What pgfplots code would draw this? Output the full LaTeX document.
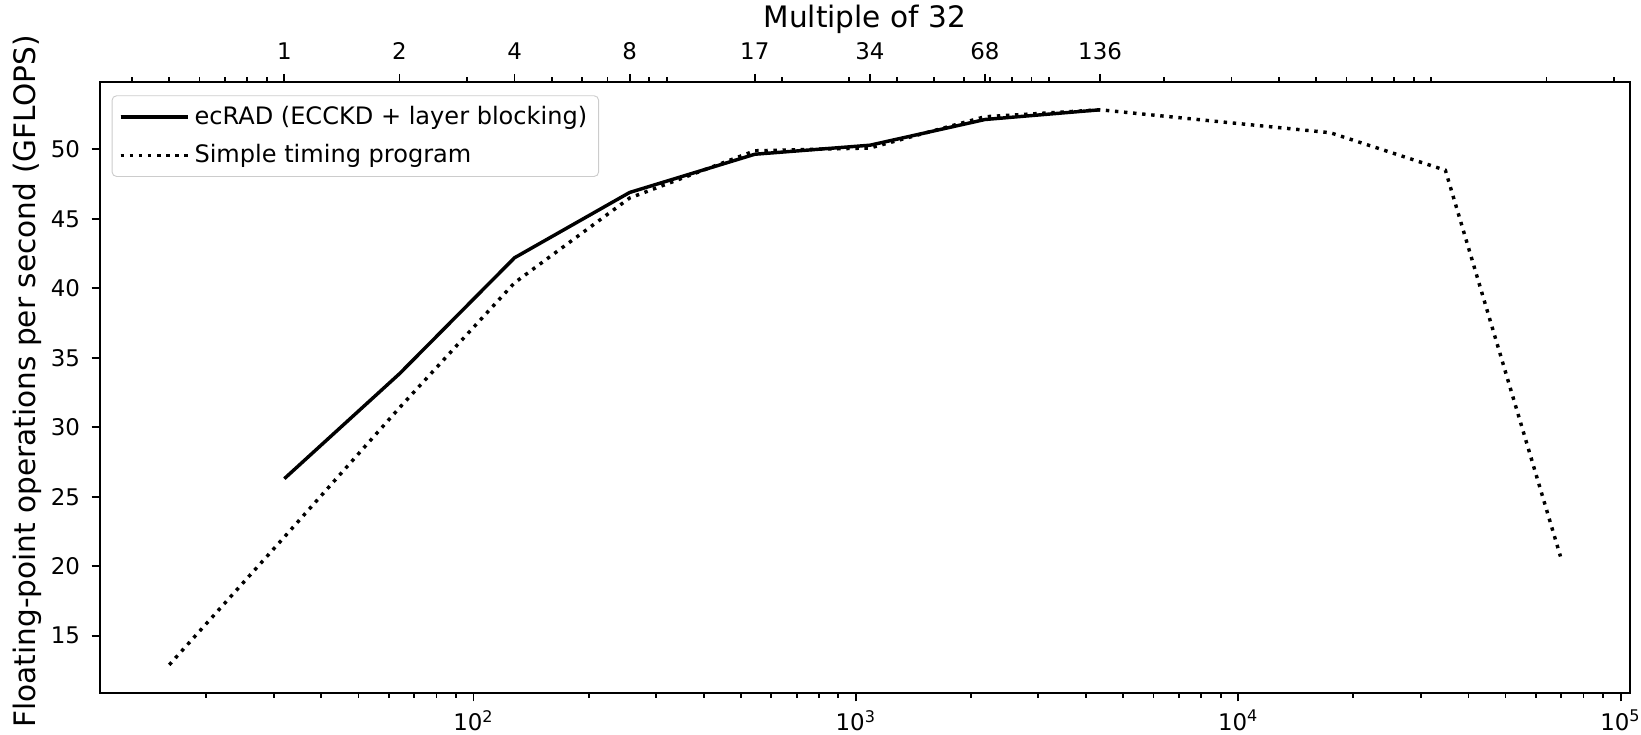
\documentclass[border=0pt]{standalone}
\usepackage{fontspec}
\setmainfont{DejaVu Sans}
\usepackage{pgfplots}
\pgfplotsset{compat=1.18}
\pgfplotsset{legend image code/.code={\draw[line width=1.5pt,#1] (0pt,0pt) -- (23.3pt,0pt); \path (0pt,0pt) -- (29.5pt,0pt);}}

\pgfplotstableread{
x y
32 26.3
64 33.85
128 42.2
256 46.9
544 49.65
1088 50.3
2176 52.15
4352 52.85
}\ecradtab

\pgfplotstableread{
x y
16 12.9
32 22.1
64 31.4
128 40.4
256 46.5
544 49.9
1088 50.1
2176 52.35
4352 52.85
17408 51.2
34816 48.5
69632 20.7
}\simpletab

\begin{document}
\begin{tikzpicture}
\begin{axis}[
  scale only axis, width=668.1pt, height=266.9pt,
  xmode=log, xmin=10.525, xmax=105850, ymin=10.85, ymax=54.85,
  tick align=outside,
  major tick length=3.5pt, minor tick length=2pt,
  tick style={black, line width=0.8pt},
  axis line style={line width=0.8pt},
  ticklabel style={font=\fontsize{10}{12}\selectfont},
  yticklabel shift=1.6pt,
  xticklabel shift=0.3pt,
  xtick pos=bottom, ytick pos=left,
  ytick={15,20,25,30,35,40,45,50},
  yticklabels={15,20,25,30,35,40,45,50},
  xtick={100,1000,10000,100000},
  xticklabels={10\textsuperscript{2},10\textsuperscript{3},10\textsuperscript{4},10\textsuperscript{5}},
  minor xtick={20,30,40,50,60,70,80,90,200,300,400,500,600,700,800,900,2000,3000,4000,5000,6000,7000,8000,9000,20000,30000,40000,50000,60000,70000,80000,90000},
  ylabel={Floating-point operations per second (GFLOPS)},
  ylabel style={at={(axis description cs:-0.0475,0.51)}, anchor=center, font=\fontsize{12.9}{15}\selectfont},
  legend cell align=left,
  legend style={at={(0,1)}, anchor=north west, xshift=5.2pt, yshift=-5.8pt,
    draw=black!20, rounded corners=2pt, fill=white,
    font=\fontsize{10.5}{12.6}\selectfont, row sep=3.3pt, inner xsep=3pt, inner ysep=2.5pt,
    nodes={inner sep=2pt}},
]
\addplot[black, line width=1.5pt] table[x=x, y=y] {\ecradtab};
\addlegendentry{ecRAD (ECCKD + layer blocking)}
\addplot[black, line width=1.5pt, dash pattern=on 1.5pt off 2.475pt] table[x=x, y=y] {\simpletab};
\addlegendentry{Simple timing program}
\end{axis}
\begin{axis}[
  scale only axis, width=668.1pt, height=266.9pt,
  xmode=log, xmin=10.525, xmax=105850, ymin=10.85, ymax=54.85,
  tick align=outside,
  major tick length=3.5pt, minor tick length=2pt,
  tick style={black, line width=0.8pt},
  axis line style={line width=0.8pt},
  ticklabel style={font=\fontsize{10}{12}\selectfont},
  xticklabel shift=2.7pt,
  hide y axis,
  xtick pos=top, xticklabel pos=top,
  xtick={32,64,128,256,544,1088,2176,4352},
  xticklabels={1,2,4,8,17,34,68,136},
  minor xtick={12.8,16,19.2,22.4,25.6,28.8,64,96,128,160,192,224,256,288,320,640,960,1280,1600,1920,2240,2560,2880,3200,6400,9600,12800,16000,19200,22400,25600,28800,32000,64000,96000},
  xlabel={Multiple of 32},
  xlabel style={at={(axis description cs:0.5,1)}, anchor=base, yshift=23.9pt, font=\fontsize{12.9}{15}\selectfont},
]
\addplot[draw=none] coordinates {(100,30)};
\end{axis}
\pgfresetboundingbox
\path[use as bounding box] (-43.53pt,-17.77pt) rectangle (672.9pt,302.7pt);
\end{tikzpicture}
\end{document}
